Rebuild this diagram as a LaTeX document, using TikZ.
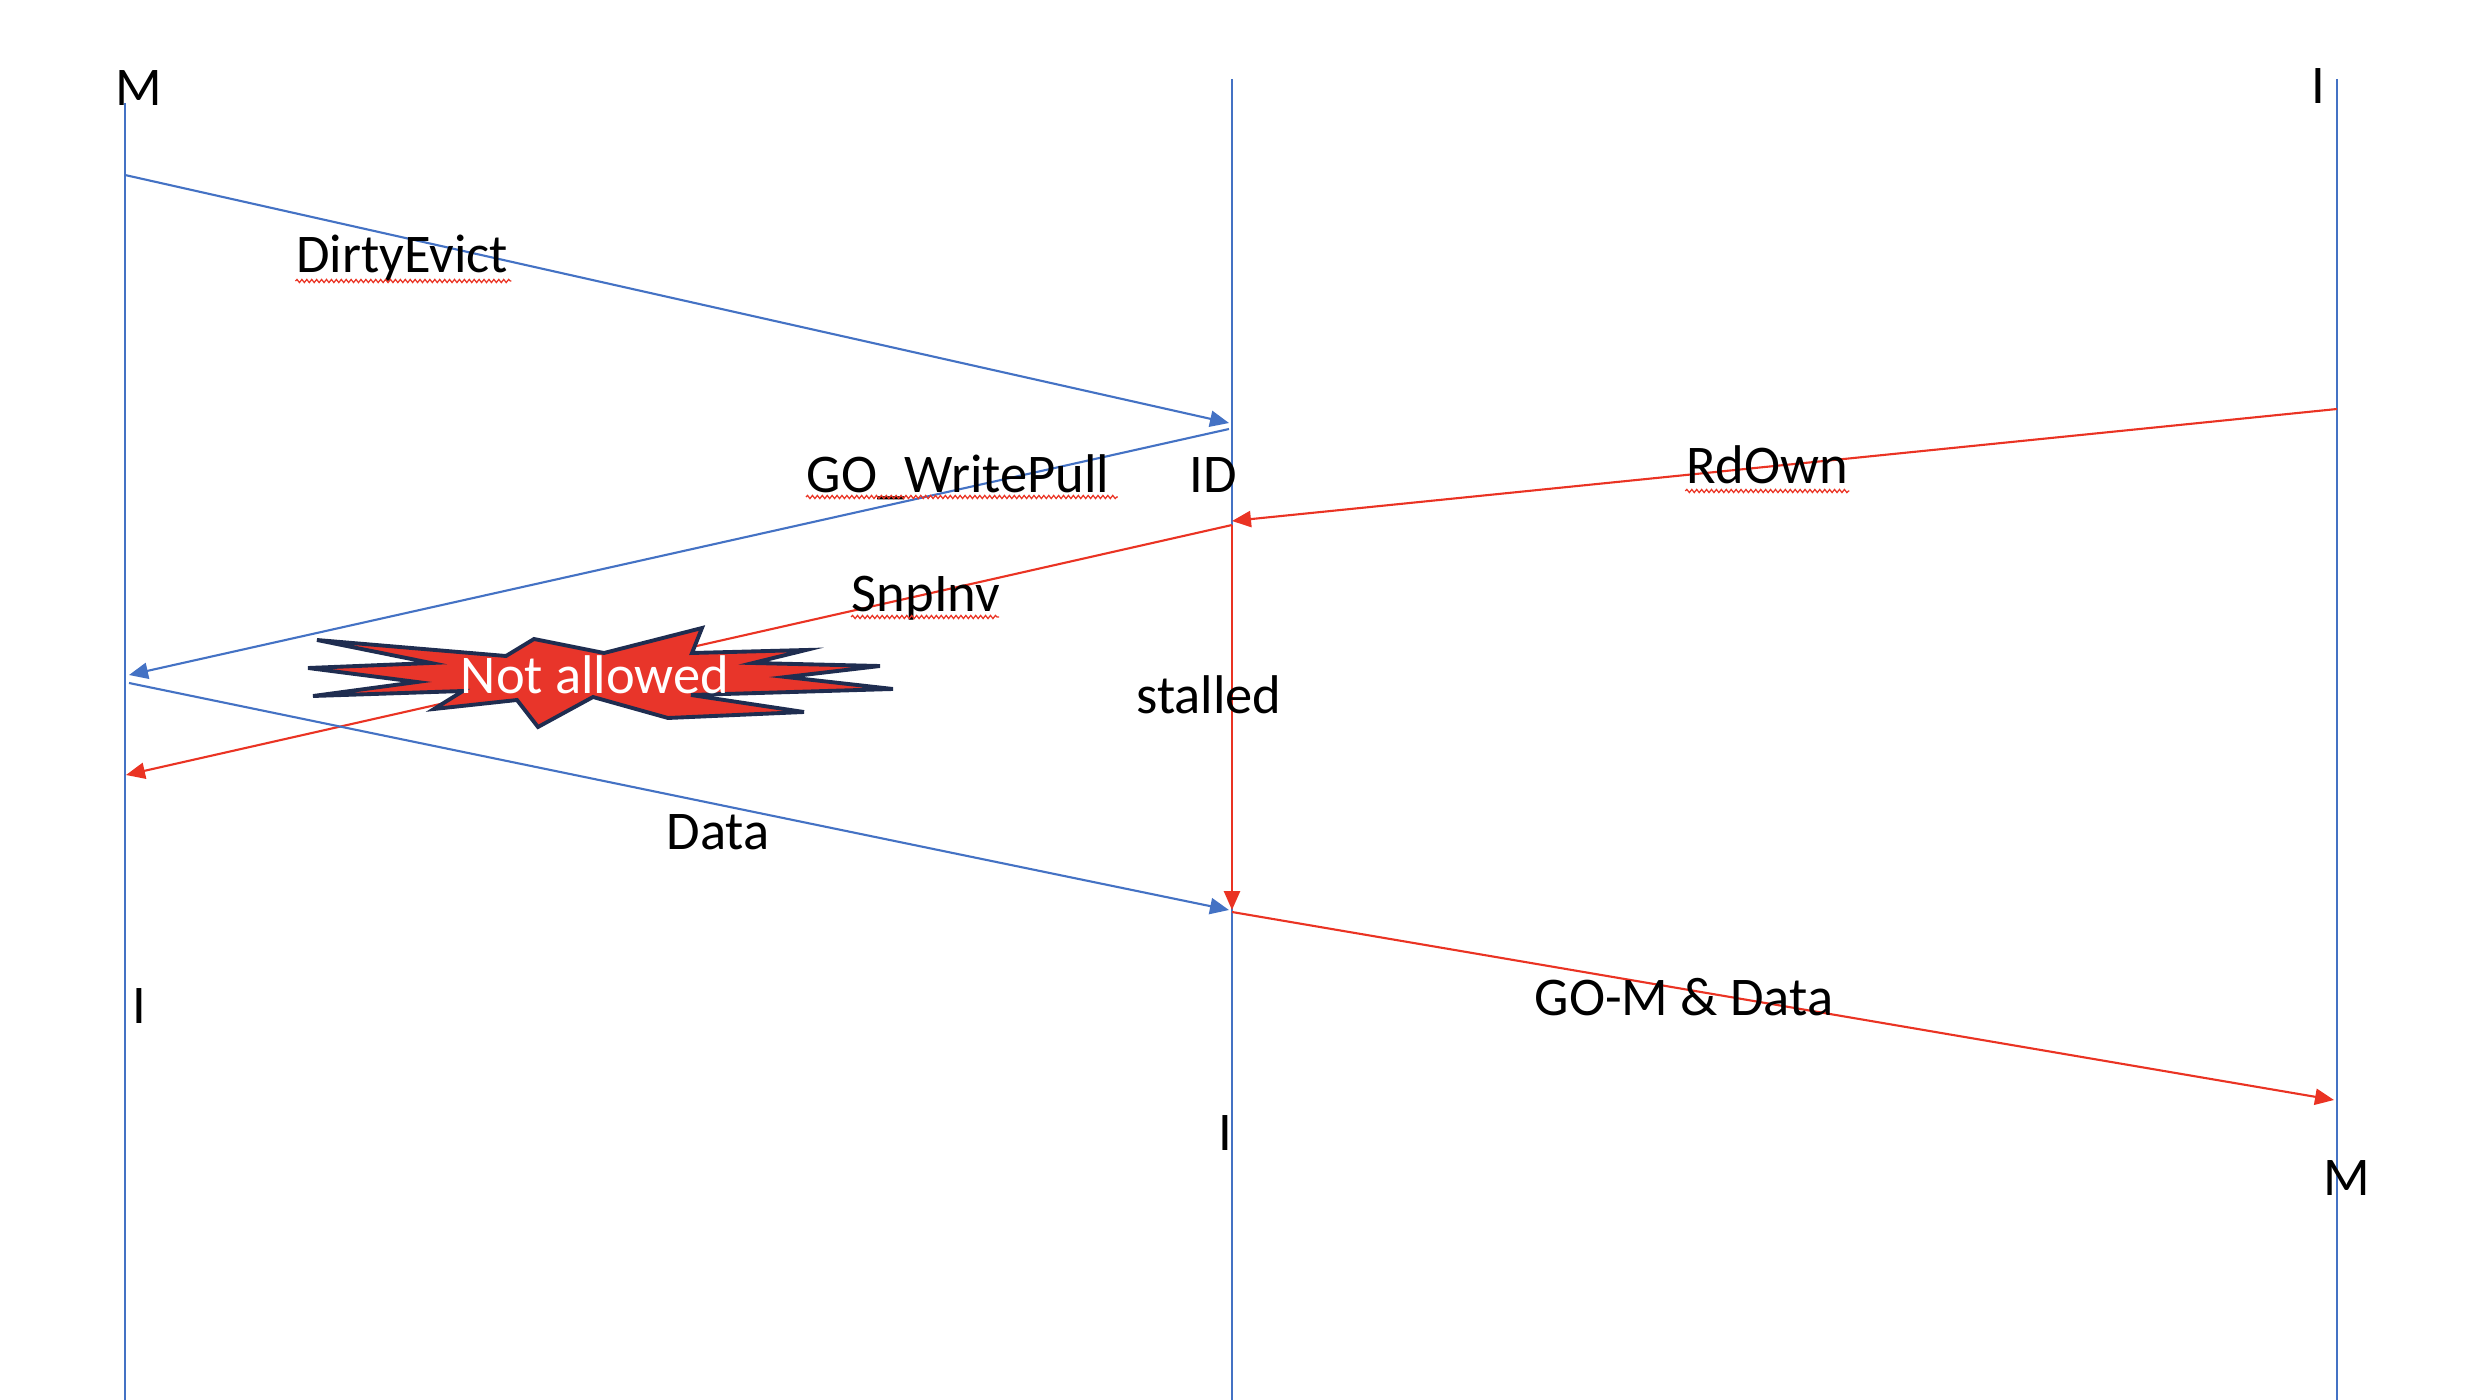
\documentclass[tikz,border=0pt]{standalone}
\usepackage{fontspec}
\setmainfont{Carlito}
\usetikzlibrary{arrows.meta,decorations.pathmorphing}
\definecolor{lineblue}{HTML}{4472C4}
\definecolor{linered}{HTML}{EA3323}
\definecolor{starred}{HTML}{E8352A}
\definecolor{starnavy}{HTML}{1F2D50}
\begin{document}
\begin{tikzpicture}[x=0.01cm,y=-0.01cm,
    lifeline/.style={lineblue,line width=0.6pt},
    bluemsg/.style={lineblue,line width=0.6pt,-{Triangle[length=5.4pt,width=4.6pt]}},
    redmsg/.style={linered,line width=0.6pt,-{Triangle[length=5.4pt,width=4.6pt]}},
    lbl/.style={font=\fontsize{15.5}{18}\selectfont,inner sep=0pt,anchor=base},
    squiggle/.style={linered,line width=0.35pt,decorate,decoration={snake,segment length=1.4pt,amplitude=0.45pt}}]
    \useasboundingbox (0,0) rectangle (2474,1400);

    % lifelines
    \coordinate (ltop) at (125,103);  \coordinate (lbot) at (125,1400);
    \coordinate (mtop) at (1232,79);  \coordinate (mbot) at (1232,1400);
    \coordinate (rtop) at (2337,79);  \coordinate (rbot) at (2337,1400);
    \draw[lifeline] (ltop) -- (lbot);
    \draw[lifeline] (mtop) -- (mbot);
    \draw[lifeline] (rtop) -- (rbot);

    % message ends
    \coordinate (evictS) at (125,175);  \coordinate (evictE) at (1229,423);
    \coordinate (pullS) at (1229,429);  \coordinate (pullE) at (129,675);
    \coordinate (ownS) at (2337,409);   \coordinate (ownE) at (1232,521);
    \coordinate (snpS) at (1232,525);   \coordinate (snpE) at (126,775);
    \coordinate (stallE) at (1232,910);
    \coordinate (dataS) at (129,683);   \coordinate (dataE) at (1229,910);
    \coordinate (gomS) at (1232,912);   \coordinate (gomE) at (2334,1100);

    \draw[redmsg] (snpS) -- (stallE);
    \draw[bluemsg] (evictS) -- (evictE);
    \draw[bluemsg] (pullS) -- (pullE);
    \draw[redmsg] (ownS) -- (ownE);
    \draw[redmsg] (snpS) -- (snpE);
    \draw[bluemsg] (dataS) -- (dataE);
    \draw[redmsg] (gomS) -- (gomE);

    % burst
    \draw[fill=starred,draw=starnavy,line width=1.1pt,line join=miter]
        (317,640) -- (506,656) -- (534,639) -- (604,653) -- (702,628) -- (692,653)
        -- (806,650) -- (753,663) -- (880,666) -- (786,677) -- (893,689) -- (691,695)
        -- (804,712) -- (668,718) -- (593,697) -- (538,727) -- (517,700) -- (434,709)
        -- (463,691) -- (313,696) -- (417,682) -- (308,668) -- (431,663) -- cycle;
    \node[lbl,white] (notallowed) at (595,693) {Not allowed};

    % states
    \node[lbl] (stateM1) at (139,106) {M};
    \node[lbl] (stateI1) at (2318,104) {I};
    \node[lbl] (stateID) at (1213,492) {ID};
    \node[lbl] (stateI2) at (139,1023) {I};
    \node[lbl] (stateI3) at (1225,1150) {I};
    \node[lbl] (stateM2) at (2347,1195) {M};
    \node[lbl] (stalled) at (1209,713) {stalled};

    % messages
    \node[lbl] (dirtyevict) at (402,273) {DirtyEvict};
    \node[lbl] (writepull) at (958,492) {GO\_WritePull};
    \node[lbl] (rdown) at (1767,484) {RdOwn};
    \node[lbl] (snpinv) at (926,611) {SnpInv};
    \node[lbl] (data) at (718,849) {Data};
    \node[lbl] (godata) at (1684,1015) {GO-M \& Data};

    \draw[squiggle] (dirtyevict.base west) ++(0,8) -- ++(216,0);
    \draw[squiggle] (writepull.base west) ++(0,5) -- ++(312,0);
    \draw[squiggle] (rdown.base west) ++(0,7) -- ++(164,0);
    \draw[squiggle] (snpinv.base west) ++(0,6) -- ++(148,0);
\end{tikzpicture}
\end{document}
